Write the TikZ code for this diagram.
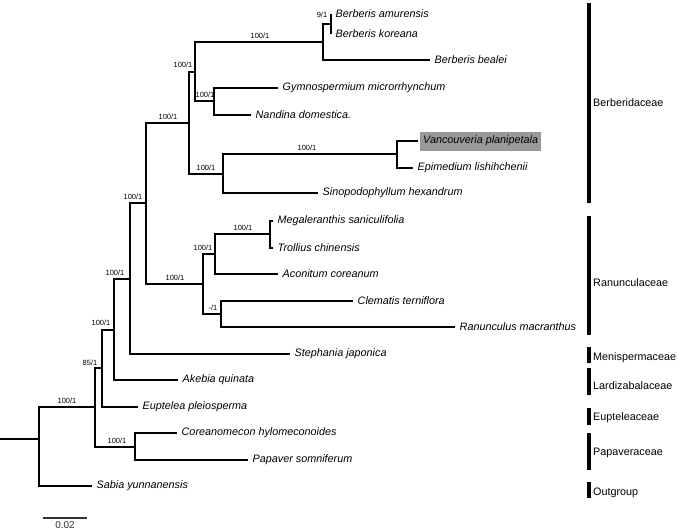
\documentclass[tikz,border=0pt]{standalone}
\usepackage{fontspec}
\setmainfont{Liberation Sans}
\definecolor{hilite}{gray}{0.6}

\begin{document}
\begin{tikzpicture}[x=1pt, y=-1pt,
  branch/.style={line width=1.6pt},
  taxon/.style={anchor=west, inner xsep=4.5pt, inner ysep=0pt, font=\fontsize{10.8}{12}\selectfont\itshape},
  support/.style={inner sep=0pt, font=\fontsize{7.5}{8}\selectfont},
  family/.style={anchor=west, inner sep=0pt, font=\fontsize{10.8}{12}\selectfont},
  famline/.style={line width=3.2pt}]
  \useasboundingbox (0,0) rectangle (678,531);
  %% \draw[very thin,color=gray,xstep=50,ystep=50] (0,0) grid (678,531);
  \foreach \n/\x/\y in {root/39/439, ing/95/407, cp/135/447, eu/102/368, ak/114/330,
      st/130/279, br/146/203, bd/189/123, bgn/195/72, ber/323/42, bam/331/24, gn/214/101,
      vs/223/174, ve/397/154, ra/203/284, mta/215/254, mt/270/234, cr/221/314}
    \coordinate (\n) at (\x,\y);
  \coordinate (base) at (0,439);
  \foreach \n/\x/\y/\t in {amu/331/14/Berberis amurensis, kor/331/34/Berberis koreana,
      bea/430/60/Berberis bealei, gym/278/88/Gymnospermium microrrhynchum,
      nan/251/115/Nandina domestica., epi/413/168/Epimedium lishihchenii,
      sin/318/193/Sinopodophyllum hexandrum, meg/273/221/Megaleranthis saniculifolia,
      tro/273/248/Trollius chinensis, aco/278/274/Aconitum coreanum,
      cle/353/301/Clematis terniflora, ran/455/327/Ranunculus macranthus,
      ste/290/354/Stephania japonica, ake/178/380/Akebia quinata,
      eup/138/407/Euptelea pleiosperma, cor/177/433/Coreanomecon hylomeconoides,
      pap/248/460/Papaver somniferum, sab/92/486/Sabia yunnanensis}
  {
    \coordinate (\n) at (\x,\y);
    \node[taxon] (t\n) at (\n) {\t};
  }
  \coordinate (van) at (418,141);
  \node[taxon, fill=hilite, inner xsep=3pt, minimum height=19pt, xshift=2pt] (tvan) at (van) {Vancouveria planipetala};
  \draw[branch] (base) -- (root);
  \foreach \p/\c in {root/ing, root/sab, ing/eu, ing/cp, cp/cor, cp/pap, eu/ak, eu/eup,
      ak/st, ak/ake, st/br, st/ste, br/bd, br/ra, bd/bgn, bd/vs, bgn/ber, bgn/gn,
      ber/bam, ber/bea, bam/amu, bam/kor, gn/gym, gn/nan, vs/ve, vs/sin, ve/van, ve/epi,
      ra/mta, ra/cr, mta/mt, mta/aco, mt/meg, mt/tro, cr/cle, cr/ran}
    \draw[branch] (\p) |- (\c);
  \foreach \x/\y/\t [count=\i] in {322/15/{9/1}, 260/36/{100/1}, 183/65/{100/1}, 205/95/{100/1},
      168/117/{100/1}, 307/148/{100/1}, 206/168/{100/1}, 243/228/{100/1}, 203/248/{100/1},
      175/278/{100/1}, 213/308/{-/1}, 133/197/{100/1}, 115/273/{100/1}, 101/323/{100/1},
      90/363/{85/1}, 117/441/{100/1}, 67/401/{100/1}}
    \node[support] (s\i) at (\x,\y) {\t};
  \foreach \a/\b/\ty/\t in {3/203/103/Berberidaceae, 216/335/283/Ranunculaceae,
      347/363/358/Menispermaceae, 368/395/386/Lardizabalaceae, 408/425/418/Eupteleaceae,
      433/470/453/Papaveraceae, 482/498/493/Outgroup}
  {
    \draw[famline] (589,\a) -- (589,\b);
    \node[family] (f\t) at (593,\ty) {\t};
  }
  \coordinate (sba) at (43,518);
  \coordinate (sbb) at (87,518);
  \draw[line width=1.4pt, black!80] (sba) -- (sbb)
    node[midway, below=2.5pt, inner sep=0pt, font=\fontsize{10}{11}\selectfont] (sbl) {0.02};
\end{tikzpicture}
\end{document}
